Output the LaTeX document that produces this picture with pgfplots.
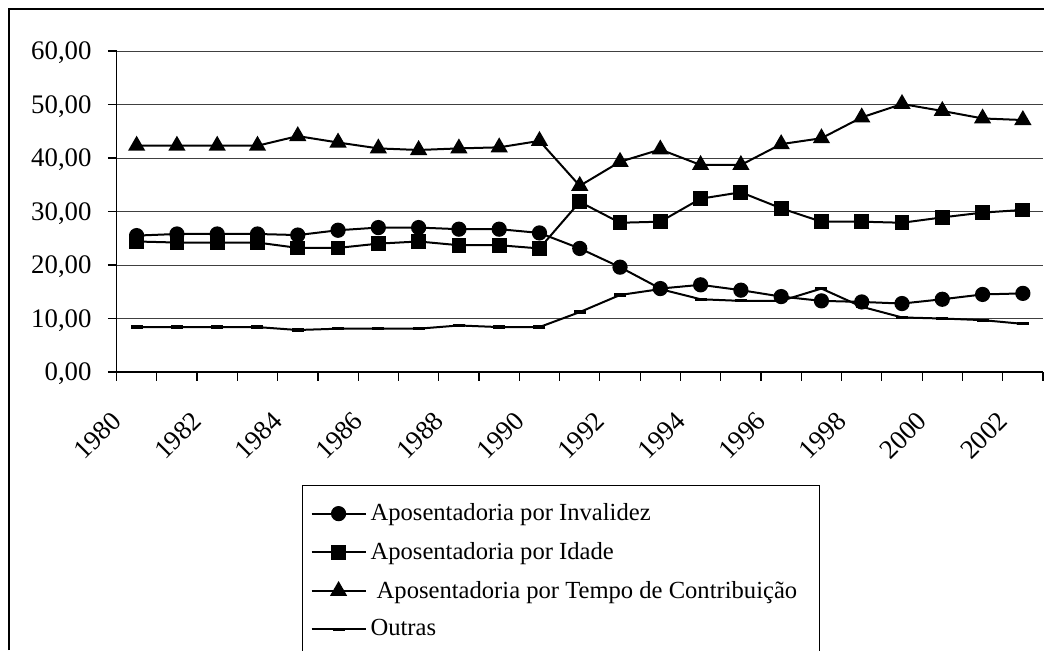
\documentclass[border=0pt]{standalone}
\usepackage{fontspec}
\setmainfont{Liberation Serif}
\usepackage{pgfplots}
\pgfplotsset{compat=1.18}
\newcommand\tf{\fontsize{13.4}{16}\selectfont}
\begin{document}
\begin{tikzpicture}
\useasboundingbox (0pt,0pt) rectangle (522pt,-325pt);
\draw[line width=0.6pt] (4.5pt,-325pt) -- (4.5pt,-4.5pt) -- (522pt,-4.5pt);
\begin{axis}[
  at={(58.25pt,-186pt)}, anchor=south west,
  scale only axis, width=463.25pt, height=160.5pt,
  xmin=-0.5, xmax=22.5, ymin=0, ymax=60,
  axis x line=bottom, axis y line=left, axis line style={-, line width=0.6pt},
  ytick={0,10,20,30,40,50,60},
  yticklabels={{\tf 0,00},{\tf 10,00},{\tf 20,00},{\tf 30,00},{\tf 40,00},{\tf 50,00},{\tf 60,00}},
  ymajorgrids, grid style={black!75, line width=0.5pt},
  xtick={-0.5,0.5,...,22.5}, xticklabels={},
  extra x ticks={0,2,...,22},
  extra x tick labels={{\tf 1980},{\tf 1982},{\tf 1984},{\tf 1986},{\tf 1988},{\tf 1990},{\tf 1992},{\tf 1994},{\tf 1996},{\tf 1998},{\tf 2000},{\tf 2002}},
  extra x tick style={major tick length=0pt, grid=none},
  tick align=outside, major tick length=4.3pt,
  tick style={black, line width=0.6pt},
  yticklabel style={font=\tf, anchor=east, inner sep=0pt, xshift=-8pt, yshift=-1pt},
  xticklabel style={font=\tf, inner sep=0pt, xshift=-9.9pt, yshift=-22.25pt, rotate=45, anchor=east},
  legend style={at={(0.2002,-0.352)}, anchor=north west, draw=black, line width=0.6pt,
    font=\fontsize{12.3}{14}\selectfont, row sep=5.3pt, inner xsep=4pt, inner ysep=7pt},
  legend cell align=left,
  legend image code/.code={\draw[mark repeat=2,mark phase=2,line width=1pt] plot coordinates {(0pt,0pt)(13.5pt,0pt)(27pt,0pt)};},
  every axis plot/.append style={black, line width=1pt},
]
\addplot[mark=*, mark size=3.3pt] coordinates {
(0,25.5)(1,25.8)(2,25.8)(3,25.8)(4,25.6)(5,26.5)(6,27.0)(7,27.0)(8,26.7)(9,26.7)(10,26.0)(11,23.1)
(12,19.6)(13,15.6)(14,16.3)(15,15.3)(16,14.1)(17,13.3)(18,13.1)(19,12.8)(20,13.6)(21,14.5)(22,14.7)};
\addlegendentry{Aposentadoria por Invalidez}
\addplot[mark=square*, mark size=3.2pt] coordinates {
(0,24.4)(1,24.2)(2,24.2)(3,24.2)(4,23.2)(5,23.2)(6,24.0)(7,24.4)(8,23.7)(9,23.7)(10,23.1)(11,31.8)
(12,27.9)(13,28.1)(14,32.4)(15,33.6)(16,30.6)(17,28.1)(18,28.1)(19,27.9)(20,28.9)(21,29.8)(22,30.3)};
\addlegendentry{Aposentadoria por Idade}
\addplot[mark=triangle*, mark size=4pt] coordinates {
(0,42.3)(1,42.3)(2,42.3)(3,42.3)(4,44.1)(5,42.9)(6,41.8)(7,41.5)(8,41.8)(9,42.0)(10,43.2)(11,34.8)
(12,39.3)(13,41.6)(14,38.7)(15,38.7)(16,42.6)(17,43.7)(18,47.6)(19,50.1)(20,48.8)(21,47.4)(22,47.1)};
\addlegendentry{\ Aposentadoria por Tempo de Contribuição\hspace*{5pt}}
\addplot[mark=-, mark size=3pt, mark options={line width=1.6pt}] coordinates {
(0,8.4)(1,8.4)(2,8.4)(3,8.4)(4,7.85)(5,8.1)(6,8.1)(7,8.1)(8,8.7)(9,8.4)(10,8.4)(11,11.2)
(12,14.4)(13,15.5)(14,13.6)(15,13.3)(16,13.3)(17,15.6)(18,12.2)(19,10.2)(20,10.0)(21,9.7)(22,9.0)};
\addlegendentry{Outras}
\end{axis}
\end{tikzpicture}
\end{document}
